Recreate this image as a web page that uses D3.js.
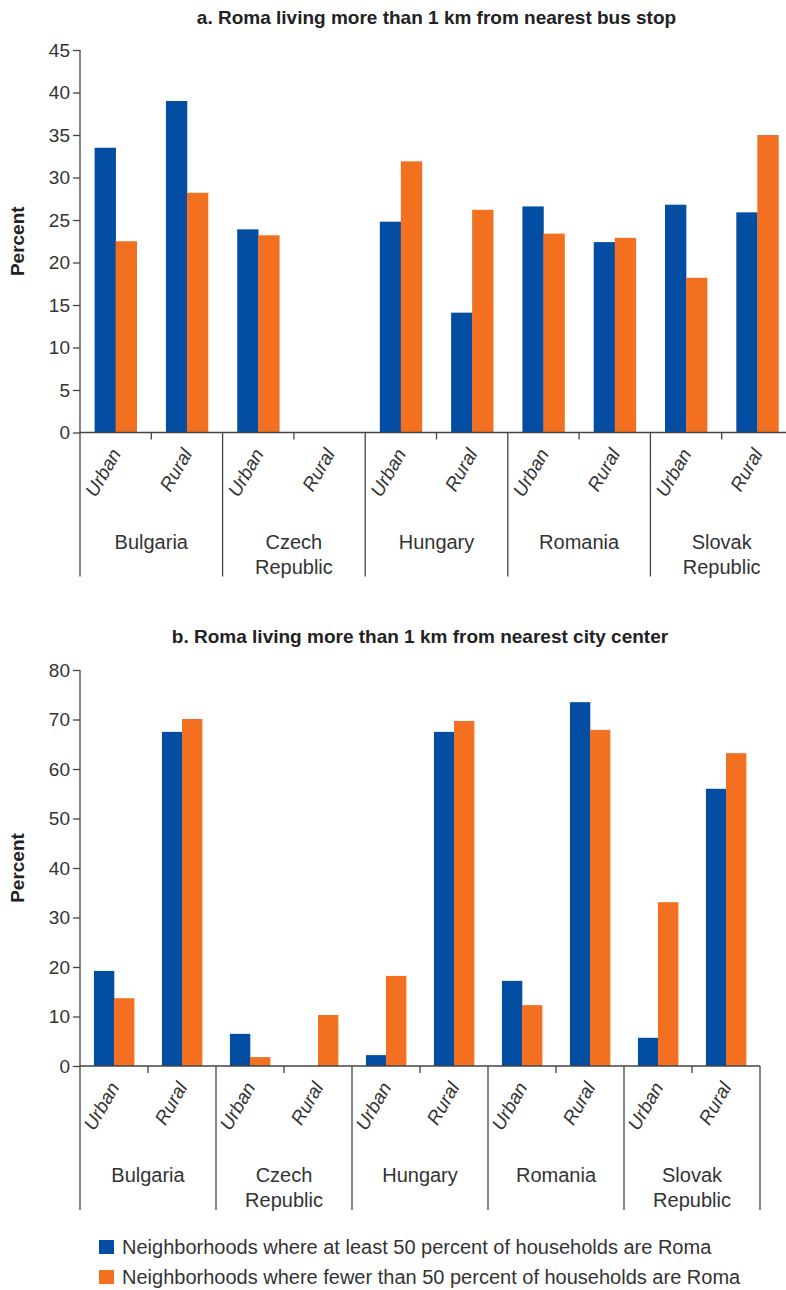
<!DOCTYPE html>
<html><head><meta charset="utf-8">
<script src="https://cdn.jsdelivr.net/npm/d3@7"></script>
<style>
body{margin:0;background:#fff;}
svg{display:block;font-family:"Liberation Sans",Arial,sans-serif;}
.axis text{fill:#333;font-size:19px;}
.axis path,.axis line{stroke:#444;stroke-width:1.3;}
</style></head>
<body>
<svg id="c" width="786" height="1290"></svg>
<script>
const countries = ["Bulgaria","Czech Republic","Hungary","Romania","Slovak Republic"];
const countryLines = [["Bulgaria"],["Czech","Republic"],["Hungary"],["Romania"],["Slovak","Republic"]];
const areas = ["Urban","Rural"];
const seriesNames = ["Neighborhoods where at least 50 percent of households are Roma","Neighborhoods where fewer than 50 percent of households are Roma"];
const seriesColors = ["#034EA2","#F37021"];
// Panel a: bus stop (order: Bulgaria U,R, Czech U,R, Hungary U,R, Romania U,R, Slovak U,R)
const busMajority = [33.5, 39.0, 23.9, 0, 24.8, 14.1, 26.6, 22.4, 26.8, 25.9];
const busMinority = [22.5, 28.2, 23.2, 0, 31.9, 26.2, 23.4, 22.9, 18.2, 35.0];
const busTicks = [0,5,10,15,20,25,30,35,40,45];
// Panel b: city center
const cityMajority = [19.2, 67.5, 6.5, 0, 2.2, 67.5, 17.2, 73.5, 5.7, 56.0];
const cityMinority = [13.7, 70.1, 1.8, 10.3, 18.2, 69.7, 12.3, 67.9, 33.1, 63.2];
const cityTicks = [0,10,20,30,40,50,60,70,80];

const svg = d3.select("#c");

function panel(opt){
  const keys = [];
  countries.forEach(c=>areas.forEach(a=>keys.push(c+"|"+a)));
  const x = d3.scaleBand().domain(keys).range([opt.x0,opt.x1]).padding(0);
  const xs = d3.scaleBand().domain([0,1]).range([0,x.bandwidth()]).paddingInner(0).paddingOuter(0.695);
  const y = d3.scaleLinear().domain([0,opt.max]).range([opt.y0,opt.y1]);
  const g = svg.append("g");

  // title
  g.append("text").attr("x",(opt.x0+opt.x1)/2).attr("y",opt.titleY)
    .attr("text-anchor","middle").attr("font-weight","bold").attr("font-size","19px")
    .attr("fill","#222").text(opt.title);

  // bars
  const data = [opt.a, opt.b];
  data.forEach((vals,si)=>{
    g.append("g").selectAll("rect").data(vals).join("rect")
      .attr("x",(d,i)=>x(keys[i])+xs(si))
      .attr("width",xs.bandwidth()+0.3)
      .attr("y",d=>y(d)).attr("height",d=>y(0)-y(d))
      .attr("fill",seriesColors[si]);
  });

  // y axis
  const ya = g.append("g").attr("class","axis").attr("transform",`translate(${opt.x0},0)`)
    .call(d3.axisLeft(y).tickValues(opt.ticks).tickSize(7).tickSizeOuter(0).tickPadding(3));
  ya.select(".domain").remove();
  ya.append("line").attr("x1",0).attr("x2",0).attr("y1",opt.y1).attr("y2",opt.y0+144).attr("stroke","#444").attr("stroke-width",1.3);

  // y label
  g.append("text").attr("transform",`translate(24,${(opt.y0+opt.y1)/2}) rotate(-90)`)
    .attr("text-anchor","middle").attr("font-weight","bold").attr("font-size","19px").attr("fill","#222").text("Percent");

  // x axis baseline
  g.append("line").attr("x1",opt.x0).attr("x2",opt.x1).attr("y1",y(0)).attr("y2",y(0)).attr("stroke","#444").attr("stroke-width",1.3);
  countries.forEach((c,ci)=>{
    const xm = x(c+"|Rural");
    g.append("line").attr("x1",xm).attr("x2",xm).attr("y1",y(0)).attr("y2",y(0)+7).attr("stroke","#444").attr("stroke-width",1.3);
    const xe = x(c+"|Rural")+x.bandwidth();
    g.append("line").attr("x1",xe).attr("x2",xe).attr("y1",y(0)).attr("y2",y(0)+144).attr("stroke","#444").attr("stroke-width",1.3);
    const cx = x(c+"|Urban")+x.bandwidth();
    countryLines[ci].forEach((ln,li)=>{
      g.append("text").attr("x",cx).attr("y",y(0)+116+li*25).attr("text-anchor","middle")
        .attr("font-size","20px").attr("fill","#333").text(ln);
    });
    areas.forEach(a=>{
      const ax = x(c+"|"+a)+x.bandwidth()/2;
      g.append("text").attr("transform",`translate(${ax+6},${y(0)+21}) rotate(-60)`)
        .attr("text-anchor","end").attr("font-size","19px").attr("font-style","italic").attr("fill","#333").text(a);
    });
  });
}

panel({x0:80,x1:793,y0:432.5,y1:50,max:45,ticks:busTicks,a:busMajority,b:busMinority,titleY:24,
  title:"a. Roma living more than 1 km from nearest bus stop"});
panel({x0:80,x1:760,y0:1066,y1:670,max:80,ticks:cityTicks,a:cityMajority,b:cityMinority,titleY:643,
  title:"b. Roma living more than 1 km from nearest city center"});

// legend
const lg = svg.append("g");
seriesNames.forEach((s,i)=>{
  lg.append("rect").attr("x",99).attr("y",1240+i*30).attr("width",15).attr("height",14).attr("fill",seriesColors[i]);
  lg.append("text").attr("x",122).attr("y",1254+i*30).attr("font-size","20px").attr("fill","#333").text(s);
});
</script>
</body></html>
